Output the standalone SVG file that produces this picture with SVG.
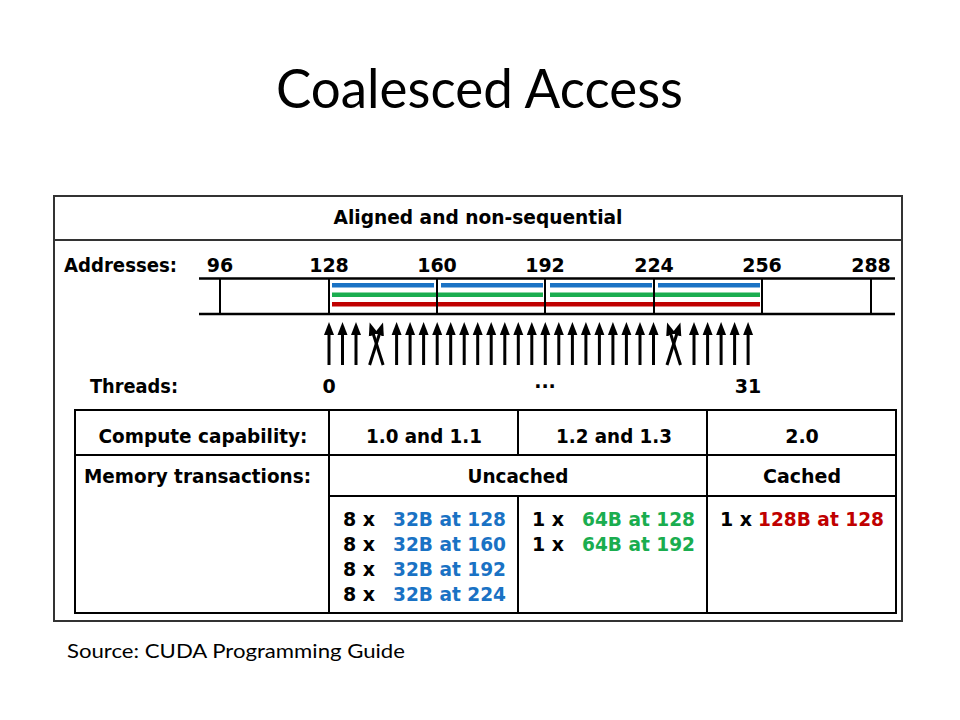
<svg xmlns="http://www.w3.org/2000/svg" width="960" height="720" viewBox="0 0 960 720">
<style>
.t{font-family:"DejaVu Sans","Verdana",sans-serif;font-weight:bold;font-size:19px;fill:#000}
.c{text-anchor:middle}
.blue{fill:#1a72c4}
.green{fill:#1aad4f}
.red{fill:#c00000}
.ln{stroke:#000;fill:none}
.arr{stroke:#000;stroke-width:3;fill:none;marker-end:url(#ah)}
</style>
<defs>
<marker id="ah" markerUnits="userSpaceOnUse" markerWidth="14" markerHeight="12" viewBox="0 -6 14 12" refX="1" refY="0" orient="auto">
<path d="M0,-5 L13,0 L0,5 z" fill="#000"/>
</marker>
</defs>
<rect width="960" height="720" fill="#fff"/>
<text id="title" x="479.5" y="108" text-anchor="middle" textLength="407" lengthAdjust="spacingAndGlyphs" style="font-family:Lato,'Open Sans',sans-serif;font-size:54px;fill:#000">Coalesced Access</text>

<g id="frame">
<rect x="54" y="196" width="848" height="425" class="ln" stroke-width="2" style="stroke:#333"/>
<line x1="54" y1="240" x2="902" y2="240" class="ln" stroke-width="2" style="stroke:#333"/>
<text class="t c" x="478" y="224" textLength="289" lengthAdjust="spacingAndGlyphs">Aligned and non-sequential</text>
</g>

<g id="addresses">
<text class="t" x="64" y="272" textLength="113" lengthAdjust="spacingAndGlyphs">Addresses:</text>
<text class="t c" x="220" y="272">96</text>
<text class="t c" x="329" y="272">128</text>
<text class="t c" x="437" y="272">160</text>
<text class="t c" x="545" y="272">192</text>
<text class="t c" x="654" y="272">224</text>
<text class="t c" x="762" y="272">256</text>
<text class="t c" x="871" y="272">288</text>
</g>

<g id="memory-bar">
<rect x="332" y="283" width="102" height="4.5" class="blue"/>
<rect x="441" y="283" width="102" height="4.5" class="blue"/>
<rect x="550" y="283" width="102" height="4.5" class="blue"/>
<rect x="658" y="283" width="102" height="4.5" class="blue"/>
<rect x="332" y="292.5" width="211" height="4.5" class="green"/>
<rect x="550" y="292.5" width="210" height="4.5" class="green"/>
<rect x="332" y="302" width="428" height="4.5" class="red"/>
<line x1="199" y1="278.5" x2="895" y2="278.5" class="ln" stroke-width="2.5"/>
<line x1="199" y1="314" x2="895" y2="314" class="ln" stroke-width="2.5"/>
<g class="ln" stroke-width="2">
<line x1="220" y1="278" x2="220" y2="314"/>
<line x1="329" y1="278" x2="329" y2="314"/>
<line x1="437" y1="278" x2="437" y2="314"/>
<line x1="545" y1="278" x2="545" y2="314"/>
<line x1="654" y1="278" x2="654" y2="314"/>
<line x1="762" y1="278" x2="762" y2="314"/>
<line x1="871" y1="278" x2="871" y2="314"/>
</g>
</g>

<g id="connectors">
<line class="arr" x1="329" y1="365" x2="329" y2="334"/>
<line class="arr" x1="342.5" y1="365" x2="342.5" y2="334"/>
<line class="arr" x1="356" y1="365" x2="356" y2="334"/>
<line class="arr" x1="369.6" y1="365" x2="379.4" y2="334"/>
<line class="arr" x1="383.1" y1="365" x2="373.3" y2="334"/>
<line class="arr" x1="396.6" y1="365" x2="396.6" y2="334"/>
<line class="arr" x1="410.1" y1="365" x2="410.1" y2="334"/>
<line class="arr" x1="423.6" y1="365" x2="423.6" y2="334"/>
<line class="arr" x1="437.2" y1="365" x2="437.2" y2="334"/>
<line class="arr" x1="450.7" y1="365" x2="450.7" y2="334"/>
<line class="arr" x1="464.2" y1="365" x2="464.2" y2="334"/>
<line class="arr" x1="477.7" y1="365" x2="477.7" y2="334"/>
<line class="arr" x1="491.2" y1="365" x2="491.2" y2="334"/>
<line class="arr" x1="504.8" y1="365" x2="504.8" y2="334"/>
<line class="arr" x1="518.3" y1="365" x2="518.3" y2="334"/>
<line class="arr" x1="531.8" y1="365" x2="531.8" y2="334"/>
<line class="arr" x1="545.3" y1="365" x2="545.3" y2="334"/>
<line class="arr" x1="558.8" y1="365" x2="558.8" y2="334"/>
<line class="arr" x1="572.4" y1="365" x2="572.4" y2="334"/>
<line class="arr" x1="585.9" y1="365" x2="585.9" y2="334"/>
<line class="arr" x1="599.4" y1="365" x2="599.4" y2="334"/>
<line class="arr" x1="612.9" y1="365" x2="612.9" y2="334"/>
<line class="arr" x1="626.4" y1="365" x2="626.4" y2="334"/>
<line class="arr" x1="640" y1="365" x2="640" y2="334"/>
<line class="arr" x1="653.5" y1="365" x2="653.5" y2="334"/>
<line class="arr" x1="667" y1="365" x2="676.8" y2="334"/>
<line class="arr" x1="680.5" y1="365" x2="670.7" y2="334"/>
<line class="arr" x1="694" y1="365" x2="694" y2="334"/>
<line class="arr" x1="707.6" y1="365" x2="707.6" y2="334"/>
<line class="arr" x1="721.1" y1="365" x2="721.1" y2="334"/>
<line class="arr" x1="734.6" y1="365" x2="734.6" y2="334"/>
<line class="arr" x1="748.1" y1="365" x2="748.1" y2="334"/>
</g>

<g id="threads">
<text class="t" x="90" y="393" textLength="88" lengthAdjust="spacingAndGlyphs">Threads:</text>
<text class="t c" x="329" y="393">0</text>
<text class="t c" x="545" y="388">...</text>
<text class="t c" x="748" y="393">31</text>
</g>

<g id="table">
<rect x="75" y="410" width="821" height="203" class="ln" stroke-width="2"/>
<g class="ln" stroke-width="2">
<line x1="75" y1="455" x2="896" y2="455"/>
<line x1="329" y1="496" x2="896" y2="496"/>
<line x1="329" y1="410" x2="329" y2="613"/>
<line x1="518" y1="410" x2="518" y2="455"/>
<line x1="518" y1="496" x2="518" y2="613"/>
<line x1="707" y1="410" x2="707" y2="613"/>
</g>
</g>

<g id="row-compute">
<text class="t c" x="203" y="443" textLength="209" lengthAdjust="spacingAndGlyphs">Compute capability:</text>
<text class="t c" x="424" y="443" textLength="116" lengthAdjust="spacingAndGlyphs">1.0 and 1.1</text>
<text class="t c" x="614" y="443" textLength="116" lengthAdjust="spacingAndGlyphs">1.2 and 1.3</text>
<text class="t c" x="802" y="443">2.0</text>
</g>

<g id="row-memory">
<text class="t" x="84" y="483" textLength="227" lengthAdjust="spacingAndGlyphs">Memory transactions:</text>
<text class="t c" x="518" y="483" textLength="101" lengthAdjust="spacingAndGlyphs">Uncached</text>
<text class="t c" x="802" y="483" textLength="78" lengthAdjust="spacingAndGlyphs">Cached</text>
</g>

<g id="cell-10-11">
<text class="t" x="343" y="526">8 x</text><text class="t blue" x="393" y="526" textLength="113" lengthAdjust="spacingAndGlyphs">32B at 128</text>
<text class="t" x="343" y="551">8 x</text><text class="t blue" x="393" y="551" textLength="113" lengthAdjust="spacingAndGlyphs">32B at 160</text>
<text class="t" x="343" y="576">8 x</text><text class="t blue" x="393" y="576" textLength="113" lengthAdjust="spacingAndGlyphs">32B at 192</text>
<text class="t" x="343" y="601">8 x</text><text class="t blue" x="393" y="601" textLength="113" lengthAdjust="spacingAndGlyphs">32B at 224</text>
</g>

<g id="cell-12-13">
<text class="t" x="532" y="526">1 x</text><text class="t green" x="582" y="526" textLength="113" lengthAdjust="spacingAndGlyphs">64B at 128</text>
<text class="t" x="532" y="551">1 x</text><text class="t green" x="582" y="551" textLength="113" lengthAdjust="spacingAndGlyphs">64B at 192</text>
</g>

<g id="cell-20">
<text class="t" x="720" y="526">1 x</text><text class="t red" x="758" y="526" textLength="126" lengthAdjust="spacingAndGlyphs">128B at 128</text>
</g>

<text id="source" x="67" y="658" textLength="338" lengthAdjust="spacingAndGlyphs" style="font-family:Lato,'Open Sans',sans-serif;font-size:19px;fill:#000">Source: CUDA Programming Guide</text>
</svg>
